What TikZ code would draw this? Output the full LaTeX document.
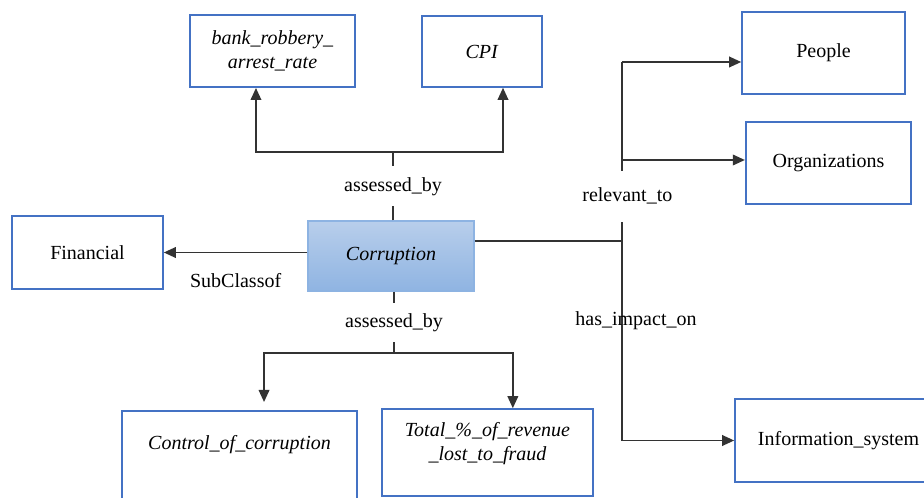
\documentclass[tikz,border=0pt]{standalone}
\usepackage{fontspec}
\setmainfont{Liberation Serif}
\usepackage{xcolor}
\usepackage{tikz}
\usetikzlibrary{arrows.meta}
\definecolor{boxblue}{HTML}{4472C4}
\definecolor{coretop}{HTML}{B8CEEB}
\definecolor{corebot}{HTML}{8FB4E2}
\definecolor{coreline}{HTML}{8DB3E2}
\tikzstyle{arrow} = [-{Triangle[length=9pt,width=8pt]}]
\tikzstyle{relline} = [draw=black!80, line width=1.1pt]
\tikzstyle{concept} = [draw=boxblue, line width=1.5pt, align=center, inner sep=0pt]
\tikzstyle{core} = [top color=coretop, bottom color=corebot, draw=coreline, line width=0.8pt, inner sep=0pt]
\tikzstyle{rel} = [fill=white, inner xsep=2pt, inner ysep=8pt]

\begin{document}
\begin{tikzpicture}[x=0.75pt, y=-0.75pt, every node/.style={font=\fontsize{15}{18}\selectfont}]
		\useasboundingbox (0,0) rectangle (924,498);
		\clip (0,0) rectangle (924,498);

		\node (corruption) [core, minimum width=124.5pt, minimum height=52.5pt] at (391,256) {\textit{Corruption}};
		\node (bank) [concept, minimum width=123.75pt, minimum height=54pt] at (272.5,51) {\textit{bank\_robbery\_}\\\textit{arrest\_rate}};
		\node (cpi) [concept, minimum width=90pt, minimum height=53pt] at (482,51.5) {\textit{CPI}};
		\node (financial) [concept, minimum width=113pt, minimum height=55pt] at (87.5,252.5) {Financial};
		\node (people) [concept, minimum width=122pt, minimum height=61.5pt] at (823.5,53) {People};
		\node (organizations) [concept, minimum width=124pt, minimum height=61.5pt] at (828.5,163) {Organizations};
		\node (info) [concept, minimum width=155pt, minimum height=62pt] at (838.5,440.5) {Information\_system};
		\node (control) [concept, minimum width=176pt, anchor=north, inner ysep=18pt, text depth=60pt] at (239.5,410) {\textit{Control\_of\_corruption}};
		\node (total) [concept, minimum width=158pt, minimum height=65pt, text depth=16pt] at (487.5,452.5) {\textit{Total\_\%\_of\_revenue}\\\textit{\_lost\_to\_fraud}};

		\coordinate (topsplit) at (393,152);
		\draw [relline] (corruption.north -| topsplit) -- (topsplit) node [rel, midway] {assessed\_by};
		\draw [relline, arrow] (topsplit) -| ([xshift=-12.4pt]bank.south);
		\draw [relline, arrow] (topsplit) -| ([xshift=15.75pt]cpi.south);

		\draw [relline, arrow] (corruption.west |- financial) -- (financial.east) node [midway, below=12pt] {SubClassof};

		\coordinate (rtrunk) at (622,241);
		\coordinate (rtop) at (622,62);
		\coordinate (rorg) at (622,160);
		\draw [relline] (corruption.east |- rtrunk) -- (rtrunk);
		\draw [relline] (rtrunk) -- node [rel, pos=0.25, inner ysep=13pt, xshift=4pt] {relevant\_to} (rtop);
		\draw [relline, arrow] (rtop) -- (rtop -| people.west);
		\draw [relline, arrow] (rorg) -- (rorg -| organizations.west);
		\draw [relline, arrow] (rtrunk) |- node [pos=0.2, xshift=10.5pt] {has\_impact\_on} (info.west);

		\coordinate (botsplit) at (394,353);
		\draw [relline] (corruption.south -| botsplit) -- (botsplit) node [rel, midway] {assessed\_by};
		\draw [relline, arrow] (botsplit) -| ([xshift=18.4pt, yshift=6pt]control.north);
		\draw [relline, arrow] (botsplit) -| ([xshift=19pt]total.north);
	\end{tikzpicture}
\end{document}
